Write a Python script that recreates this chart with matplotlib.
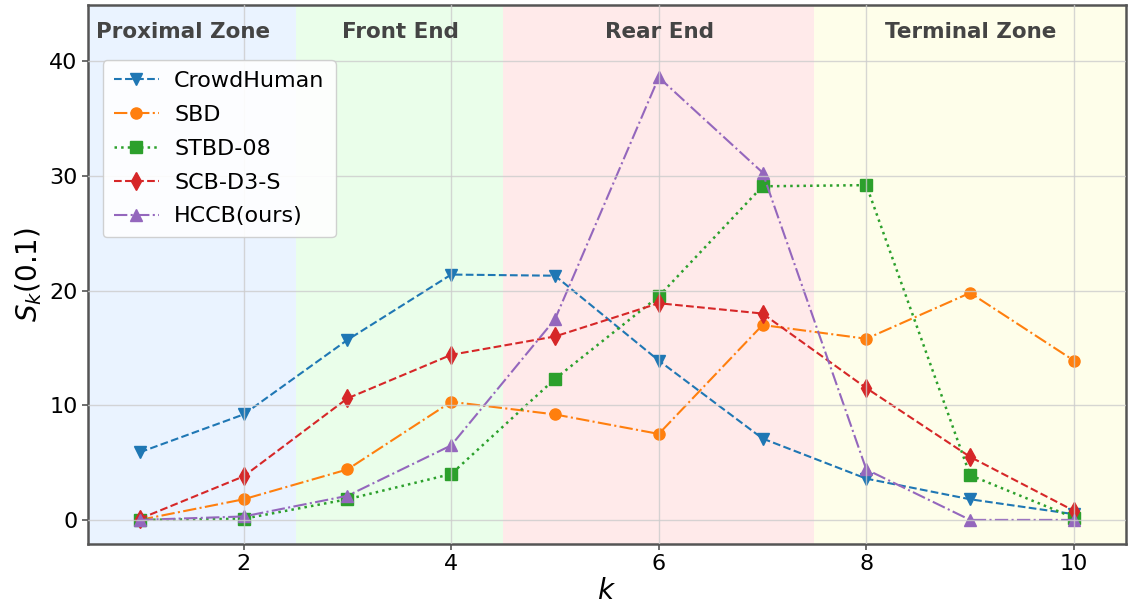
import matplotlib
matplotlib.use("Agg")
import matplotlib.pyplot as plt
import numpy as np

k = [1, 2, 3, 4, 5, 6, 7, 8, 9, 10]
crowdhuman = [5.9, 9.2, 15.7, 21.4, 21.3, 13.9, 7.1, 3.6, 1.8, 0.5]
sbd = [0.0, 1.8, 4.4, 10.3, 9.2, 7.5, 17.0, 15.8, 19.8, 13.9]
stbd08 = [0.0, 0.1, 1.8, 4.0, 12.3, 19.5, 29.1, 29.2, 3.9, 0.2]
scbd3s = [0.1, 3.8, 10.6, 14.4, 16.0, 18.9, 18.0, 11.5, 5.5, 0.8]
hccb = [0.0, 0.3, 2.1, 6.5, 17.5, 38.6, 30.3, 4.4, 0.0, 0.0]

zone_names = ["Proximal Zone", "Front End", "Rear End", "Terminal Zone"]
zone_bounds = [(0.5, 2.5), (2.5, 4.5), (4.5, 7.5), (7.5, 10.5)]
zone_label_x = [1.42, 3.51, 6.01, 9.01]
zone_colors = ["#eaf3ff", "#eafeea", "#ffeaea", "#fefeea"]

fig = plt.figure(figsize=(11.28, 6.13), dpi=100)
ax = fig.add_axes([0.078, 0.1126, 0.92, 0.879])

for (a, b), c in zip(zone_bounds, zone_colors):
    ax.axvspan(a, b, color=c, zorder=0, lw=0)

ax.plot(k, crowdhuman, linestyle="--", marker="v", color="#1f77b4", markersize=8, lw=1.5, label="CrowdHuman")
ax.plot(k, sbd, linestyle="-.", marker="o", color="#ff7f0e", markersize=8, lw=1.5, label="SBD")
ax.plot(k, stbd08, linestyle=":", marker="s", color="#2ca02c", markersize=8, lw=1.8, label="STBD-08")
ax.plot(k, scbd3s, linestyle="--", marker="d", color="#d62728", markersize=9, lw=1.5, label="SCB-D3-S")
ax.plot(k, hccb, linestyle="-.", marker="^", color="#9467bd", markersize=8, lw=1.5, label="HCCB(ours)")

for name, x in zip(zone_names, zone_label_x):
    ax.text(x, 42.6, name, ha="center", va="center", fontsize=15.5, fontweight="bold", color="#444444")

ax.set_xlim(0.5, 10.5)
ax.set_ylim(-2.1, 44.9)
ax.set_xticks([2, 4, 6, 8, 10])
ax.set_yticks([0, 10, 20, 30, 40])
ax.tick_params(labelsize=16, length=4, width=1.2, color="#555555")
ax.grid(True, color="#cccccc", alpha=0.8, lw=1)
ax.set_axisbelow(False)
for s in ax.spines.values():
    s.set_color("#555555")
    s.set_linewidth(1.8)

ax.set_xlabel(r"$k$", fontsize=20, labelpad=2)
ax.set_ylabel(r"$S_k(0.1)$", fontsize=20, labelpad=4)

leg = ax.legend(loc="upper left", bbox_to_anchor=(0.0145, 0.898), borderaxespad=0, fontsize=16,
                framealpha=0.9, borderpad=0.5, labelspacing=0.62, handlelength=2.0,
                handletextpad=0.7)

fig.savefig("out.png", dpi=100)
